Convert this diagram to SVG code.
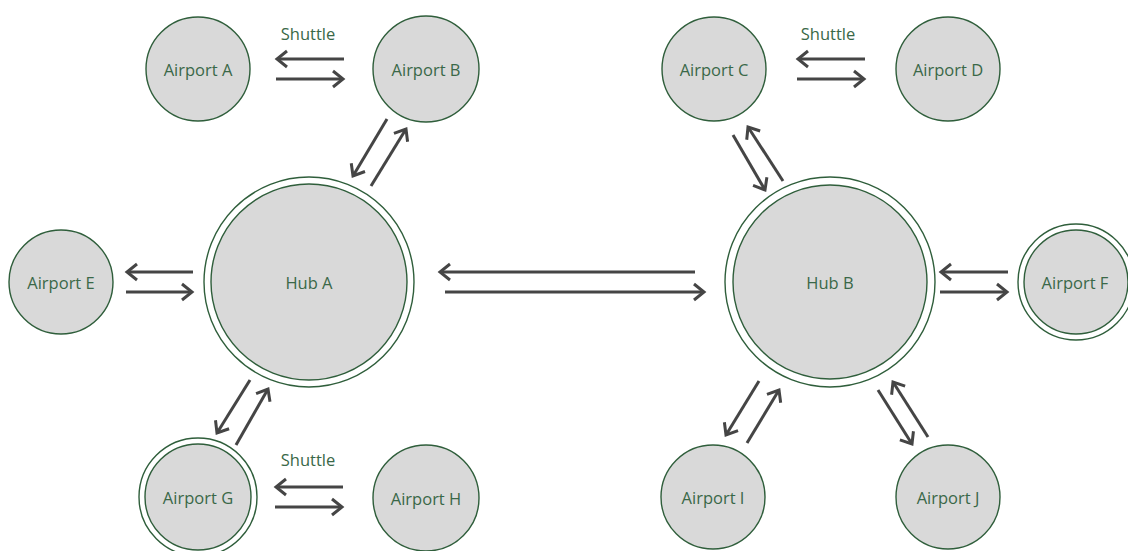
<svg xmlns="http://www.w3.org/2000/svg" width="1128" height="551" viewBox="0 0 1128 551">
<style>
.n{fill:#d9d9d9;stroke:#2f5e3b;stroke-width:1.4}
.o{fill:#ffffff;stroke:#2f5e3b;stroke-width:1.4}
.t{font-family:"Open Sans","Liberation Sans",sans-serif;font-size:16.5px;fill:#3a6848;text-anchor:middle;dominant-baseline:central}
.c line{stroke:#454545;stroke-width:3;fill:none;marker-end:url(#ah)}
</style>
<defs>
<marker id="ah" markerUnits="userSpaceOnUse" markerWidth="24" markerHeight="24" viewBox="-12 -12 24 24" refX="0" refY="0" orient="auto" overflow="visible">
<path d="M-10,-8 L0,0 L-10,8" fill="none" stroke="#454545" stroke-width="3" stroke-linejoin="miter"/>
</marker>
</defs>
<rect width="1128" height="551" fill="#ffffff"/>
<g id="connectors" class="c">
<line x1="344" y1="59" x2="277" y2="59"/>
<line x1="276" y1="79" x2="343" y2="79"/>
<line x1="865" y1="59" x2="798" y2="59"/>
<line x1="797" y1="79" x2="864" y2="79"/>
<line x1="193" y1="272" x2="127" y2="272"/>
<line x1="126" y1="292" x2="192" y2="292"/>
<line x1="695" y1="272" x2="440" y2="272"/>
<line x1="445" y1="292" x2="704" y2="292"/>
<line x1="1008" y1="272" x2="941" y2="272"/>
<line x1="940" y1="292" x2="1007" y2="292"/>
<line x1="343" y1="487" x2="276" y2="487"/>
<line x1="275" y1="507" x2="342" y2="507"/>
<line x1="387" y1="119" x2="353" y2="176"/>
<line x1="371" y1="186" x2="406" y2="129"/>
<line x1="250" y1="380" x2="217" y2="433"/>
<line x1="236" y1="445" x2="268" y2="389"/>
<line x1="733" y1="135" x2="765" y2="190"/>
<line x1="783" y1="181" x2="748" y2="127"/>
<line x1="759" y1="381" x2="726" y2="435"/>
<line x1="747" y1="443" x2="779" y2="390"/>
<line x1="878" y1="390" x2="912" y2="444"/>
<line x1="928" y1="437" x2="893" y2="382"/>
</g>
<text class="t" x="308" y="33">Shuttle</text>
<text class="t" x="828" y="33">Shuttle</text>
<text class="t" x="308" y="459">Shuttle</text>
<g id="airportA"><circle class="n" cx="198" cy="69" r="52"/><text class="t" x="198" y="69">Airport A</text></g>
<g id="airportB"><circle class="n" cx="426" cy="69" r="53"/><text class="t" x="426" y="69">Airport B</text></g>
<g id="airportC"><circle class="n" cx="714" cy="69" r="52"/><text class="t" x="714" y="69">Airport C</text></g>
<g id="airportD"><circle class="n" cx="948" cy="69" r="52"/><text class="t" x="948" y="69">Airport D</text></g>
<g id="airportE"><circle class="n" cx="61" cy="282" r="52"/><text class="t" x="61" y="282">Airport E</text></g>
<g id="hubA"><circle class="o" cx="309" cy="282" r="105"/><circle class="n" cx="309" cy="282" r="98"/><text class="t" x="309" y="282">Hub A</text></g>
<g id="hubB"><circle class="o" cx="830" cy="282" r="105"/><circle class="n" cx="830" cy="282" r="97"/><text class="t" x="830" y="282">Hub B</text></g>
<g id="airportF"><circle class="o" cx="1076" cy="282" r="58"/><circle class="n" cx="1076" cy="282" r="52"/><text class="t" x="1075" y="282">Airport F</text></g>
<g id="airportG"><circle class="o" cx="198" cy="497" r="59"/><circle class="n" cx="198" cy="497" r="53"/><text class="t" x="198" y="497">Airport G</text></g>
<g id="airportH"><circle class="n" cx="426" cy="498" r="53"/><text class="t" x="426" y="498">Airport H</text></g>
<g id="airportI"><circle class="n" cx="713" cy="497" r="52"/><text class="t" x="713" y="497">Airport I</text></g>
<g id="airportJ"><circle class="n" cx="948" cy="497" r="52"/><text class="t" x="948" y="497">Airport J</text></g>
</svg>
